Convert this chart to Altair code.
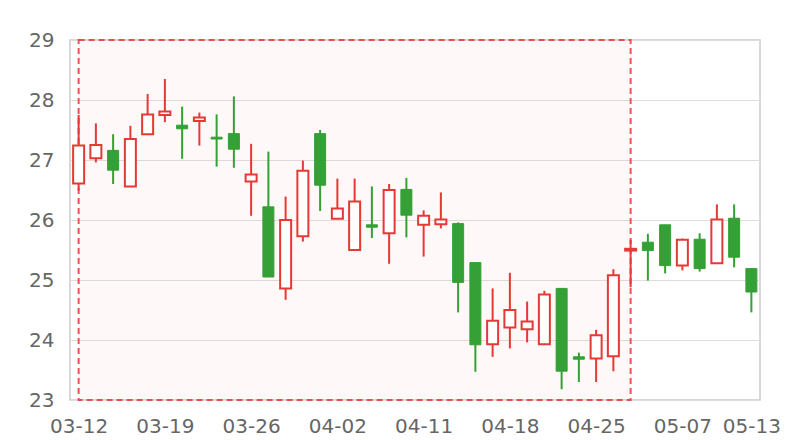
import altair as alt
import pandas as pd

dates = ["03-12", "03-13", "03-14", "03-15", "03-16", "03-19", "03-20", "03-21", "03-22", "03-23",
         "03-26", "03-27", "03-28", "03-29", "03-30", "04-02", "04-03", "04-08", "04-09", "04-10",
         "04-11", "04-12", "04-15", "04-16", "04-17", "04-18", "04-19", "04-22", "04-23", "04-24",
         "04-25", "04-26", "04-29", "04-30", "05-06", "05-07", "05-08", "05-09", "05-10", "05-13"]
open_ = [26.61, 27.03, 27.16, 26.56, 27.43, 27.75, 27.58, 27.65, 27.38, 27.44,
         26.64, 26.22, 24.86, 25.73, 27.44, 26.02, 25.50, 25.92, 25.78, 26.51,
         25.92, 25.93, 25.94, 25.29, 23.93, 24.21, 24.18, 23.93, 24.86, 23.72,
         23.69, 23.73, 25.49, 25.63, 25.92, 25.24, 25.68, 25.28, 26.03, 25.19]
close = [27.24, 27.25, 26.83, 27.35, 27.76, 27.81, 27.52, 27.71, 27.35, 27.18,
         26.76, 25.05, 26.00, 26.82, 26.58, 26.19, 26.31, 25.88, 26.50, 26.08,
         26.07, 26.01, 24.96, 23.92, 24.32, 24.50, 24.31, 24.76, 23.48, 23.68,
         24.08, 25.08, 25.52, 25.49, 25.24, 25.67, 25.19, 26.01, 25.38, 24.80]
low = [26.49, 26.96, 26.60, 26.56, 27.43, 27.63, 27.02, 27.24, 26.89, 26.87,
       26.07, 25.05, 24.67, 25.64, 26.15, 26.02, 25.50, 25.70, 25.27, 25.71,
       25.39, 25.86, 24.46, 23.47, 23.72, 23.86, 23.96, 23.93, 23.18, 23.30,
       23.30, 23.48, 24.88, 24.99, 25.11, 25.16, 25.14, 25.28, 25.21, 24.46]
high = [27.75, 27.61, 27.43, 27.57, 28.10, 28.35, 27.89, 27.79, 27.76, 28.06,
        27.27, 27.14, 26.39, 26.99, 27.50, 26.69, 26.69, 26.56, 26.60, 26.70,
        26.16, 26.46, 25.96, 25.29, 24.86, 25.12, 24.64, 24.82, 24.86, 23.79,
        24.17, 25.18, 25.67, 25.77, 25.92, 25.69, 25.78, 26.26, 26.26, 25.19]

axis_label_dates = ["03-12", "03-19", "03-26", "04-02", "04-11", "04-18", "04-25", "05-07", "05-13"]
area_start = "03-12"
area_end = "04-29"
y_ticks = [23, 24, 25, 26, 27, 28, 29]

RED = "#e53935"
GREEN = "#35a035"
W, H = 690, 360

df = pd.DataFrame({"idx": list(range(len(dates))), "date": dates,
                   "open": open_, "close": close, "low": low, "high": high})
df["dir"] = ["up" if c >= o else "down" for o, c in zip(open_, close)]

area_df = pd.DataFrame({"x1": [dates.index(area_start)], "x2": [dates.index(area_end)]})

label_expr = "[" + ",".join('"%s"' % d for d in dates) + "][datum.value]"
tick_vals = [dates.index(d) for d in axis_label_dates]

xscale = alt.Scale(domain=[-0.5, len(dates) - 0.5], nice=False, zero=False, padding=0)
yscale = alt.Scale(domain=[min(y_ticks), max(y_ticks)], nice=False, zero=False, padding=0)

xaxis = alt.Axis(values=tick_vals, labelExpr=label_expr, title=None, grid=False, ticks=False,
                 domain=False, labelFont="DejaVu Sans", labelFontSize=20, labelColor="#666666",
                 labelPadding=16, labelFlush=False, labelOverlap=False)
yaxis = alt.Axis(values=y_ticks, format="d", title=None, grid=True, gridColor="#dedede", ticks=False,
                 domain=False, labelFont="DejaVu Sans", labelFontSize=20, labelColor="#666666",
                 labelPadding=16)

color_scale = alt.Scale(domain=["up", "down"], range=[RED, GREEN])

area = alt.Chart(area_df).mark_rect(
    fill=RED, fillOpacity=0.035, stroke=RED, strokeOpacity=0.85, strokeWidth=2, strokeDash=[6, 4]
).encode(
    x=alt.X("x1:Q", scale=xscale, axis=xaxis),
    x2="x2:Q",
    y=alt.value(0),
    y2=alt.value(H),
)

base = alt.Chart(df)
wicks = base.mark_rule(strokeWidth=2).encode(
    x=alt.X("idx:Q", scale=xscale, axis=xaxis),
    y=alt.Y("low:Q", scale=yscale, axis=yaxis),
    y2="high:Q",
    color=alt.Color("dir:N", scale=color_scale, legend=None),
)
up_bodies = base.transform_filter(alt.datum.dir == "up").mark_bar(
    size=11, fill="white", stroke=RED, strokeWidth=2
).encode(
    x=alt.X("idx:Q", scale=xscale),
    y=alt.Y("open:Q", scale=yscale),
    y2="close:Q",
)
down_bodies = base.transform_filter(alt.datum.dir == "down").mark_bar(
    size=11, fill=GREEN, stroke=GREEN, strokeWidth=1
).encode(
    x=alt.X("idx:Q", scale=xscale),
    y=alt.Y("open:Q", scale=yscale),
    y2="close:Q",
)

chart = alt.layer(area, wicks, up_bodies, down_bodies).properties(
    width=W, height=H,
    autosize=alt.AutoSizeParams(type="none"),
    padding={"left": 62, "top": 32, "right": 30, "bottom": 50},
).configure_view(stroke="#cccccc", strokeWidth=1.5)

chart.save("out.html", embed_options={"renderer": "svg", "actions": False})
